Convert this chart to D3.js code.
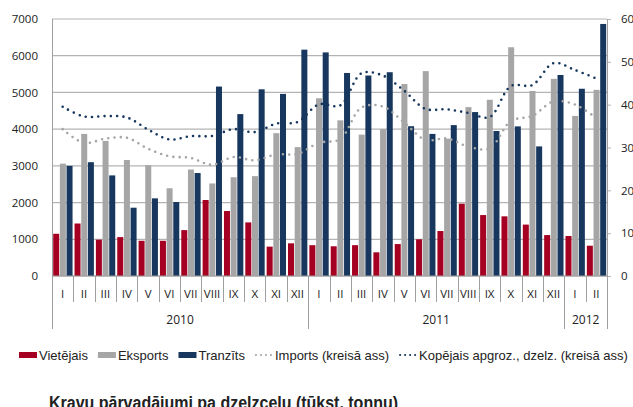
<!DOCTYPE html>
<html>
<head>
<meta charset="utf-8">
<script src="https://cdn.jsdelivr.net/npm/d3@7"></script>
<style>
  body { margin: 0; background: #fff; }
  svg text { font-family: "Open Sans", "Liberation Sans", sans-serif; fill: #222; }
  .legend text { font-family: "Liberation Sans", sans-serif; font-size: 13px; }
  .title { font-family: "Liberation Sans", sans-serif; font-weight: bold; font-size: 18px; }
</style>
</head>
<body>
<svg id="chart"></svg>
<script>
// months and years on the category axis
var months = ["I","II","III","IV","V","VI","VII","VIII","IX","X","XI","XII",
              "I","II","III","IV","V","VI","VII","VIII","IX","X","XI","XII",
              "I","II"];
var years = [{label: "2010", n: 12}, {label: "2011", n: 12}, {label: "2012", n: 2}];

// values (tūkst. tonnu)
var vietejais = [1150,1430,990,1060,960,960,1250,2070,1770,1460,800,890,
                 840,810,840,645,870,1000,1225,1970,1660,1625,1400,1115,
                 1090,825];
var eksports  = [3060,3870,3680,3160,3020,2390,2900,2520,2690,2720,3890,3510,
                 4840,4240,3850,4000,5230,5580,3740,4600,4800,6230,5040,5370,
                 4360,5070];
var tranzits  = [3000,3100,2740,1860,2115,2015,2805,5160,4410,5085,4960,6165,
                 6090,5530,5460,5550,4080,3870,4110,4465,3950,4075,3530,5475,
                 5100,6865];
var imports   = [4000,3625,3740,3765,3465,3260,3215,3030,3240,3150,3310,3325,
                 3625,3730,4590,4615,4180,3705,3745,3525,3475,4220,4360,4755,
                 4670,4300];
var kopejais  = [4610,4345,4355,4320,3990,3720,3810,3815,4000,3920,4150,4195,
                 4675,4645,5520,5460,5045,4550,4540,4440,4330,5175,5200,5800,
                 5610,5380];

var leftTicks = [0,1000,2000,3000,4000,5000,6000,7000];
var rightTicks = [0,10,20,30,40,50,60];

var W = 633, H = 407;
var plotL = 52, plotR = 607, plotT = 19, plotB = 276;

var svg = d3.select("#chart").attr("width", W).attr("height", H);

var x = d3.scaleBand()
    .domain(d3.range(months.length))
    .range([plotL, plotR]);

var xs = d3.scaleBand()
    .domain(["v","e","t"])
    .range([1.2, x.bandwidth() - 0.8])
    .paddingInner(0.1);

var y = d3.scaleLinear().domain([0, 7000]).range([plotB, plotT]);
var y2 = d3.scaleLinear().domain([0, 60]).range([plotB, plotT]);

var gridColor = "#b4b4b4";

// gridlines
svg.append("g")
  .selectAll("line")
  .data(leftTicks)
  .enter().append("line")
    .attr("x1", plotL).attr("x2", plotR)
    .attr("y1", function(d) { return y(d); })
    .attr("y2", function(d) { return y(d); })
    .style("stroke", gridColor)
    .style("stroke-width", 1.2);

// left axis labels
svg.append("g")
    .attr("transform", "translate(" + plotL + ",0)")
    .call(d3.axisLeft(y).tickValues(leftTicks).tickSize(0).tickPadding(14).tickFormat(d3.format("d")))
    .call(function(g) { g.select(".domain").remove(); })
    .selectAll("text")
      .style("font-size", "11.5px")
      .style("font-family", "Open Sans, sans-serif")
      .attr("fill", "#222");

// right axis
svg.append("g")
    .attr("transform", "translate(" + plotR + ",0)")
    .call(d3.axisRight(y2).tickValues(rightTicks).tickSize(4).tickPadding(10))
    .call(function(g) {
      g.select(".domain").remove();
      g.selectAll("line").style("stroke", gridColor);
    })
    .selectAll("text")
      .style("font-size", "11.5px")
      .style("font-family", "Open Sans, sans-serif")
      .attr("fill", "#222");

// bars
var series = [
  {key: "v", values: vietejais, color: "#a50021"},
  {key: "e", values: eksports,  color: "#a6a6a6"},
  {key: "t", values: tranzits,  color: "#17375e"}
];

series.forEach(function(s) {
  svg.append("g")
    .selectAll("rect")
    .data(s.values)
    .enter().append("rect")
      .attr("x", function(d, i) { return x(i) + xs(s.key); })
      .attr("width", xs.bandwidth())
      .attr("y", function(d) { return y(d); })
      .attr("height", function(d) { return plotB - y(d); })
      .style("fill", s.color);
});

// dotted smooth lines
var line = d3.line()
    .x(function(d, i) { return x(i) + x.bandwidth() / 2; })
    .y(function(d) { return y(d); })
    .curve(d3.curveCatmullRom.alpha(0.5));

svg.append("path")
    .datum(imports)
    .attr("d", line)
    .style("fill", "none")
    .style("stroke", "#a6a6a6")
    .style("stroke-width", 2.6)
    .style("stroke-linecap", "round")
    .style("stroke-dasharray", "0,6.3");

svg.append("path")
    .datum(kopejais)
    .attr("d", line)
    .style("fill", "none")
    .style("stroke", "#17375e")
    .style("stroke-width", 2.6)
    .style("stroke-linecap", "round")
    .style("stroke-dasharray", "0,6.3");

// axis frame: zero line, side lines, category separators
var frame = svg.append("g").style("stroke", "#a0a0a0").style("stroke-width", 1);
frame.append("line").attr("x1", plotL).attr("x2", plotR).attr("y1", plotB).attr("y2", plotB);

var yearStarts = [0];
years.forEach(function(yr, k) { yearStarts.push(yearStarts[k] + yr.n); });

d3.range(months.length + 1).forEach(function(i) {
  var xx = i < months.length ? x(i) : plotR;
  var isYear = yearStarts.indexOf(i) >= 0;
  var isSide = (i == 0 || i == months.length);
  frame.append("line")
    .attr("x1", Math.round(xx) + 0.5).attr("x2", Math.round(xx) + 0.5)
    .attr("y1", isSide ? plotT : plotB)
    .attr("y2", isYear ? 329 : 302);
});

// month labels
svg.append("g")
  .selectAll("text")
  .data(months)
  .enter().append("text")
    .attr("x", function(d, i) { return x(i) + x.bandwidth() / 2; })
    .attr("y", 298)
    .style("text-anchor", "middle")
    .style("font-size", "11.5px")
    .text(function(d) { return d; });

// year labels
svg.append("g")
  .selectAll("text")
  .data(years)
  .enter().append("text")
    .attr("x", function(d, k) {
      return (x(yearStarts[k]) + (yearStarts[k + 1] < months.length ? x(yearStarts[k + 1]) : plotR)) / 2;
    })
    .attr("y", 324)
    .style("text-anchor", "middle")
    .style("font-size", "12px")
    .text(function(d) { return d.label; });

// legend
var legendItems = [
  {name: "Vietējais", color: "#a50021", type: "bar"},
  {name: "Eksports", color: "#a6a6a6", type: "bar"},
  {name: "Tranzīts", color: "#17375e", type: "bar"},
  {name: "Imports (kreisā ass)", color: "#a6a6a6", type: "dot"},
  {name: "Kopējais apgroz., dzelz. (kreisā ass)", color: "#17375e", type: "dot"}
];

var legend = svg.append("g").attr("class", "legend");
var lx = 19, ly = 355;
legendItems.forEach(function(it) {
  if (it.type == "bar") {
    legend.append("rect")
      .attr("x", lx).attr("y", ly - 3)
      .attr("width", 18).attr("height", 6)
      .style("fill", it.color);
  } else {
    legend.append("line")
      .attr("x1", lx + 1).attr("x2", lx + 17)
      .attr("y1", ly).attr("y2", ly)
      .style("stroke", it.color)
      .style("stroke-width", 2.2)
      .style("stroke-linecap", "round")
      .style("stroke-dasharray", "0,5");
  }
  var t = legend.append("text")
    .attr("x", lx + 20)
    .attr("y", ly + 4.5)
    .text(it.name);
  lx = lx + 20 + t.node().getComputedTextLength() + 10;
});

// title under the chart, squeezed to look condensed
svg.append("text")
    .attr("class", "title")
    .attr("x", 49)
    .attr("y", 409)
    .attr("textLength", 349)
    .attr("lengthAdjust", "spacingAndGlyphs")
    .text("Kravu pārvadājumi pa dzelzceļu (tūkst. tonnu)");
</script>
</body>
</html>
